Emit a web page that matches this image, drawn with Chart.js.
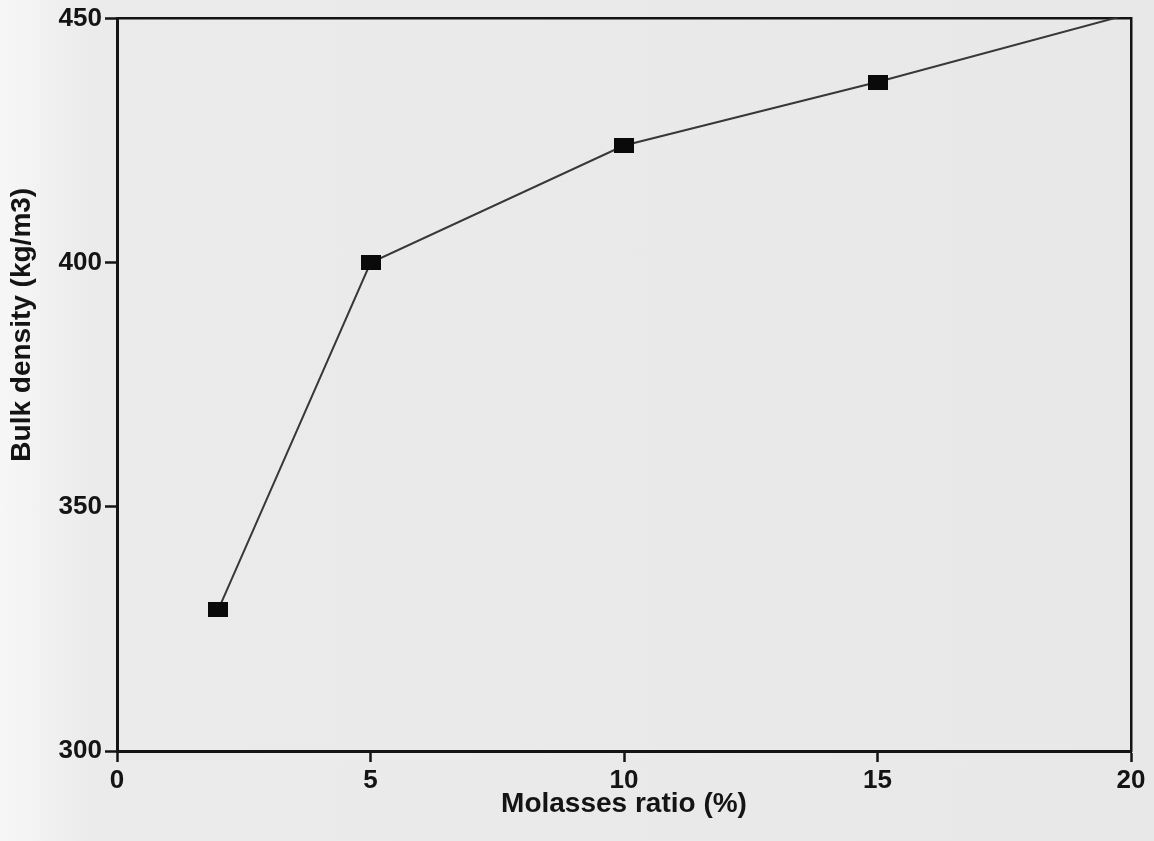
<!DOCTYPE html>
<html>
<head>
<meta charset="utf-8">
<script src="https://cdn.jsdelivr.net/npm/chart.js@4/dist/chart.umd.min.js"></script>
<style>
  html, body { margin: 0; padding: 0; }
  body {
    width: 1154px;
    height: 841px;
    background: linear-gradient(to right, #f7f7f7 0px, #ebebeb 90px, #e8e8e8 100%);
    overflow: hidden;
  }
  #wrap { position: relative; width: 1154px; height: 841px; }
</style>
</head>
<body>
<div id="wrap"><canvas id="chart" width="1154" height="841"></canvas></div>
<script>
// molasses ratio (%) vs bulk density (kg/m3)
const molasses = [2, 5, 10, 15, 20];
const density = [329, 400, 424, 437, 451];
const yTicks = [300, 350, 400, 450];
const xTicks = [0, 5, 10, 15, 20];

const FONT = "'Liberation Sans', Arial, Helvetica, sans-serif";
const INK = "#141414";

// filled rectangular marker, a bit wider than tall
function makeMarker(w, h) {
  const c = document.createElement("canvas");
  c.width = w;
  c.height = h;
  const g = c.getContext("2d");
  g.fillStyle = "#0a0a0a";
  g.fillRect(0, 0, w, h);
  return c;
}
const marker = makeMarker(20, 15);

// vertical y-axis title, sitting a little above the middle of the axis
const yTitle = {
  id: "yTitle",
  afterDraw(chart) {
    const { ctx, chartArea } = chart;
    const cy = chartArea.top + (chartArea.bottom - chartArea.top) * 0.418;
    ctx.save();
    ctx.translate(22, cy);
    ctx.rotate(-Math.PI / 2);
    ctx.font = `bold 28px ${FONT}`;
    ctx.fillStyle = INK;
    ctx.textAlign = "center";
    ctx.textBaseline = "middle";
    ctx.fillText("Bulk density (kg/m3)", 0, 0);
    ctx.restore();
  },
};

new Chart(document.getElementById("chart"), {
  type: "line",
  data: {
    datasets: [
      {
        data: molasses.map((x, i) => ({ x, y: density[i] })),
        borderColor: "#383838",
        borderWidth: 2,
        tension: 0,
        fill: false,
        pointStyle: marker,
        pointRadius: molasses.map((x) => (x === 20 ? 0 : 8)),
        clip: 1,
      },
    ],
  },
  options: {
    responsive: false,
    animation: false,
    layout: { padding: { top: 16, right: 23, left: 0, bottom: 20 } },
    plugins: { legend: { display: false }, tooltip: { enabled: false } },
    scales: {
      x: {
        type: "linear",
        min: 0,
        max: 20,
        afterBuildTicks: (s) => { s.ticks = xTicks.map((v) => ({ value: v })); },
        afterFit: (s) => { s.height = 70; },
        grid: { drawOnChartArea: false, drawTicks: true, tickLength: 11, tickColor: INK, tickWidth: 2.5 },
        border: { color: INK, width: 3 },
        ticks: { color: INK, font: { family: FONT, size: 26, weight: "bold" }, padding: 3, maxRotation: 0 },
        title: {
          display: true,
          text: "Molasses ratio (%)",
          color: INK,
          font: { family: FONT, size: 28, weight: "bold" },
          padding: { top: 0, bottom: 0 },
        },
      },
      y: {
        min: 300,
        max: 450,
        afterBuildTicks: (s) => { s.ticks = yTicks.map((v) => ({ value: v })); },
        afterFit: (s) => { s.width = 117; },
        grid: { drawOnChartArea: false, drawTicks: true, tickLength: 12, tickColor: INK, tickWidth: 2.5 },
        border: { color: INK, width: 3 },
        ticks: { color: INK, font: { family: FONT, size: 26, weight: "bold" }, padding: 3 },
      },
      // top and right frame lines
      xTop: {
        type: "linear",
        position: "top",
        min: 0,
        max: 20,
        afterFit: (s) => { s.height = 0; },
        grid: { display: false },
        border: { color: INK, width: 2.5 },
        ticks: { display: false },
      },
      yRight: {
        position: "right",
        min: 300,
        max: 450,
        afterFit: (s) => { s.width = 0; },
        grid: { display: false },
        border: { color: INK, width: 2.5 },
        ticks: { display: false },
      },
    },
  },
  plugins: [yTitle],
});
</script>
</body>
</html>
